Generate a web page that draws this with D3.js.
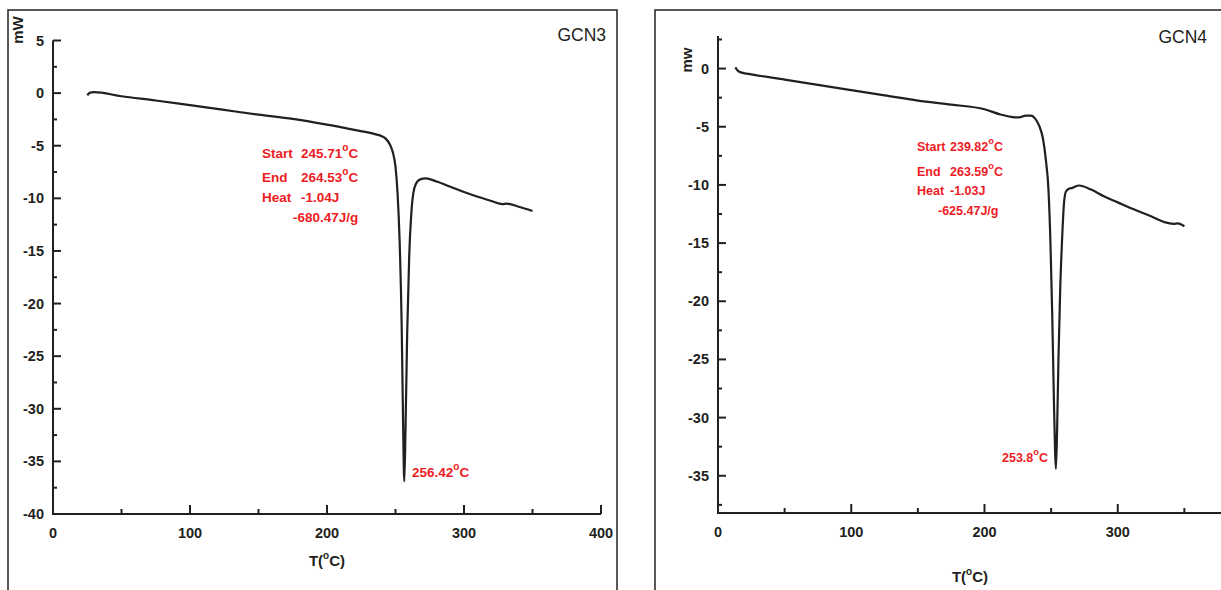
<!DOCTYPE html>
<html><head><meta charset="utf-8">
<script src="https://cdn.jsdelivr.net/npm/d3@7"></script>
<style>
body{margin:0;background:#fff;}
svg{display:block;font-family:"Liberation Sans",Arial,sans-serif;}
</style></head>
<body>
<svg id="c" width="1221" height="590"></svg>
<script>
// ---- data ----
const gcn3T = [25,27,30,50,75,100,125,150,175,200,220,235,240,243,246,248,250,251.5,253,254.5,255.5,256.4,257.3,258.5,260,261.5,263,265,268,272,280,290,300,310,320,328,331,340,350];
const gcn3Y = [-0.2,0.05,0.1,-0.3,-0.7,-1.15,-1.6,-2.05,-2.45,-3.0,-3.5,-3.9,-4.1,-4.35,-4.9,-5.6,-7.0,-9.5,-14,-22,-31,-36.9,-32,-23,-15.5,-11.5,-9.5,-8.6,-8.2,-8.1,-8.4,-8.9,-9.4,-9.85,-10.25,-10.55,-10.5,-10.8,-11.2];
const gcn4T = [13,15,18,25,50,75,100,125,150,175,200,212,220,226,231,235,238,241,244,246,248,249.5,250.8,252,253,253.6,254.5,255.5,256.8,258.3,259.5,261,263,266,271,280,290,300,312,325,335,342,345,350];
const gcn4Y = [0.1,-0.2,-0.35,-0.5,-0.95,-1.4,-1.85,-2.3,-2.75,-3.1,-3.5,-3.95,-4.15,-4.2,-4.05,-4.05,-4.3,-4.9,-6.1,-7.8,-10.4,-15,-21,-28,-33,-34.4,-31,-25,-19,-14.5,-11.8,-10.6,-10.35,-10.25,-10.05,-10.4,-11,-11.5,-12.1,-12.7,-13.2,-13.35,-13.3,-13.55];
const xTicks = [0,100,200,300,400];
const xMinor = [50,150,250,350];
const yTicks3 = [5,0,-5,-10,-15,-20,-25,-30,-35,-40];
const yMinor3 = [2.5,-2.5,-7.5,-12.5,-17.5,-22.5,-27.5,-32.5,-37.5];
const yTicks4 = [0,-5,-10,-15,-20,-25,-30,-35];
const yMinor4 = [2.5,-2.5,-7.5,-12.5,-17.5,-22.5,-27.5,-32.5,-37.5];
const ann3 = [["Start","245.71",true],["End","264.53",true],["Heat","-1.04J",false]];
const ann4 = [["Start","239.82",true],["End","263.59",true],["Heat","-1.03J",false]];

const svg = d3.select("#c");
const ink = "#231f20", red = "#ed1c24";
const W = 1221;

function panel(o){
  const g = svg.append("g");
  g.append("path").attr("d", o.frame).attr("fill","none").attr("stroke",ink).attr("stroke-width",1.5);
  const x = d3.scaleLinear().domain([0,400]).range(o.xr);
  const y = d3.scaleLinear().domain(o.yd).range(o.yr);
  g.append("line").attr("x1",x(0)).attr("x2",x(0)).attr("y1",y(o.yd[0])).attr("y2",y(o.yd[1])).attr("stroke",ink).attr("stroke-width",2);
  g.append("line").attr("x1",x(0)-1).attr("x2",x(400)).attr("y1",y(o.yd[0])).attr("y2",y(o.yd[0])).attr("stroke",ink).attr("stroke-width",2);
  const xb = y(o.yd[0]);
  g.selectAll(null).data(xTicks).join("line").attr("x1",d=>x(d)).attr("x2",d=>x(d)).attr("y1",xb).attr("y2",xb-9).attr("stroke",ink).attr("stroke-width",2);
  g.selectAll(null).data(xMinor).join("line").attr("x1",d=>x(d)).attr("x2",d=>x(d)).attr("y1",xb).attr("y2",xb-5).attr("stroke",ink).attr("stroke-width",2);
  g.selectAll(null).data(xTicks.filter(d=>x(d)+14<W)).join("text").attr("x",d=>x(d)).attr("y",xb+24).attr("text-anchor","middle")
    .attr("font-size",14.5).attr("font-weight","bold").attr("fill",ink).text(d=>d);
  const yl = x(0);
  g.selectAll(null).data(o.yt).join("line").attr("x1",yl).attr("x2",yl+8).attr("y1",d=>y(d)).attr("y2",d=>y(d)).attr("stroke",ink).attr("stroke-width",2);
  g.selectAll(null).data(o.ym).join("line").attr("x1",yl).attr("x2",yl+4).attr("y1",d=>y(d)).attr("y2",d=>y(d)).attr("stroke",ink).attr("stroke-width",2);
  g.selectAll(null).data(o.yt).join("text").attr("x",yl-9).attr("y",d=>y(d)+5).attr("text-anchor","end")
    .attr("font-size",14.5).attr("font-weight","bold").attr("fill",ink).text(d=>d);
  g.append("text").attr("transform",`translate(${o.ylab[0]},${o.ylab[1]}) rotate(-90)`).attr("text-anchor","middle")
    .attr("font-size",15).attr("font-weight","bold").attr("fill",ink).text(o.ylabText);
  const xt = g.append("text").attr("x",o.xlab[0]).attr("y",o.xlab[1]).attr("text-anchor","middle")
    .attr("font-size",15).attr("font-weight","bold").attr("fill",ink);
  xt.append("tspan").text("T(");
  xt.append("tspan").attr("font-size",10).attr("dy",-7).text("o");
  xt.append("tspan").attr("dy",7).text("C)");
  g.append("text").attr("x",o.title[0]).attr("y",o.title[1]).attr("text-anchor","end").attr("font-size",17.5).attr("fill",ink).text(o.titleText);
  const pts = o.T.map((t,i)=>[t,o.V[i]]);
  g.append("path").datum(pts).attr("fill","none").attr("stroke",ink).attr("stroke-width",2.2).attr("stroke-linejoin","round")
    .attr("d", d3.line().x(d=>x(d[0])).y(d=>y(d[1])).curve(d3.curveMonotoneX));
  const fs = o.afs;
  o.ann.forEach((a,i)=>{
    g.append("text").attr("x",o.ax[0]).attr("y",o.ay[i]).attr("font-size",fs).attr("font-weight","bold").attr("fill",red).text(a[0]);
    const t = g.append("text").attr("x",o.ax[1]).attr("y",o.ay[i]).attr("font-size",fs).attr("font-weight","bold").attr("fill",red);
    t.append("tspan").text(a[1]);
    if(a[2]){ t.append("tspan").attr("font-size",fs*0.75).attr("dy",-7.5).text("o"); t.append("tspan").attr("dy",7.5).text("C"); }
  });
  g.append("text").attr("x",o.ax[2]).attr("y",o.ay[3]).attr("font-size",fs).attr("font-weight","bold").attr("fill",red).text(o.perg);
  const pk = g.append("text").attr("x",o.pk[0]).attr("y",o.pk[1]).attr("font-size",fs).attr("font-weight","bold").attr("fill",red);
  pk.append("tspan").text(o.pkText);
  pk.append("tspan").attr("font-size",fs*0.75).attr("dy",-7.5).text("o");
  pk.append("tspan").attr("dy",7.5).text("C");
}

panel({frame:"M8,592 L8,10 L617,10 L617,592", xr:[53,601], yd:[-40,5], yr:[514,40.5],
  yt:yTicks3, ym:yMinor3, ylab:[23,30], ylabText:"mW", xlab:[327,566], title:[606,41], titleText:"GCN3",
  T:gcn3T, V:gcn3Y, afs:13.5, ann:ann3, ax:[262,301,293], ay:[158,182,202,222], perg:"-680.47J/g",
  pk:[412,477], pkText:"256.42"});
panel({frame:"M655,592 L655,10 L1225,10", xr:[718,1251], yd:[-38.2,2.8], yr:[513,36],
  yt:yTicks4, ym:yMinor4, ylab:[692,60], ylabText:"mw", xlab:[970,582], title:[1207,43], titleText:"GCN4",
  T:gcn4T, V:gcn4Y, afs:12.5, ann:ann4, ax:[917,950,938], ay:[151,176,195,215], perg:"-625.47J/g",
  pk:[1002,462], pkText:"253.8"});
</script>
</body></html>
